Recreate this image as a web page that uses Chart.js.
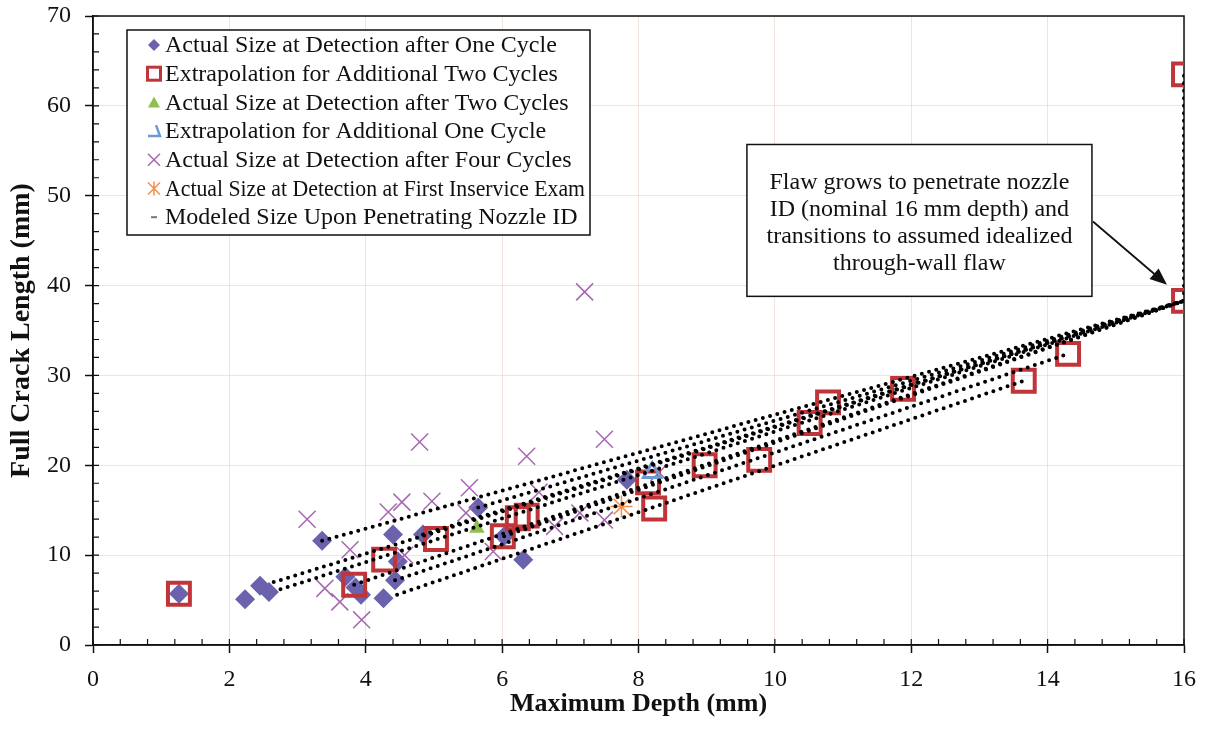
<!DOCTYPE html>
<html>
<head>
<meta charset="utf-8">
<title>Crack growth</title>
<script src="https://cdn.jsdelivr.net/npm/chart.js@4.4.1/dist/chart.umd.min.js"></script>
<style>
html, body { margin: 0; padding: 0; background: #fff; }
#wrap { width: 1206px; height: 733px; }
</style>
</head>
<body>
<div id="wrap"><canvas id="myChart" width="1206" height="733"></canvas></div>
<script>
// data: depth (mm) / length (mm)
var oneCycleX = [1.26, 2.23, 2.45, 2.58, 3.36, 3.70, 3.85, 3.93, 4.26, 4.40, 4.43, 4.47, 4.84, 5.65, 6.03, 6.31, 7.83];
var oneCycleY = [5.7, 5.1, 6.6, 5.9, 11.6, 7.6, 6.4, 5.6, 5.2, 12.3, 7.2, 9.3, 12.3, 15.3, 12.1, 9.5, 18.4];

var twoExtrapX = [1.26, 3.83, 4.27, 5.03, 6.01, 6.23, 6.36, 8.14, 8.23, 8.97, 9.77, 10.51, 10.78, 11.88, 13.65, 14.30, 16, 16];
var twoExtrapY = [5.7, 6.7, 9.5, 11.8, 12.1, 14.1, 14.4, 18.1, 15.2, 20.0, 20.6, 24.7, 27.0, 28.5, 29.4, 32.4, 38.3, 63.5];

var twoCycleX = [5.63];
var twoCycleY = [13.0];

var oneExtrapX = [8.2];
var oneExtrapY = [19.2];

var fourCycleX = [3.14, 3.40, 3.62, 3.77, 3.94, 4.33, 4.53, 4.57, 4.79, 4.97, 5.47, 5.52, 5.87, 6.36, 6.54, 6.77, 7.14, 7.21, 7.50, 7.50, 8.30];
var fourCycleY = [14.0, 6.3, 4.8, 10.6, 2.8, 14.8, 15.9, 10.0, 22.6, 16.0, 14.7, 17.5, 10.4, 21.0, 17.0, 13.2, 14.7, 39.3, 22.9, 13.9, 19.2];

var inserviceX = [7.75];
var inserviceY = [15.4];

var modeledX = [16];
var modeledY = [38.3];

// dotted growth paths, [depth, length] end points
var pathA = [[2.65, 7.0], [16, 38.3]];
var pathB = [[2.75, 6.2], [16, 38.3]];
var pathC = [[3.36, 11.6], [16, 38.3]];
var pathD = [[3.83, 6.7], [16, 38.3]];
var pathE = [[4.46, 5.6], [13.65, 29.4]];
var pathF = [[4.43, 7.2], [14.3, 32.4]];
var pathG = [[4.84, 12.3], [16, 38.3]];
var pathH = [[5.65, 15.3], [16, 38.3]];
var pathI = [[6.03, 12.1], [16, 38.3]];
var pathWall = [[16, 38.3], [16, 63.5]];

var xTicks = [0, 2, 4, 6, 8, 10, 12, 14, 16];
var yTicks = [0, 10, 20, 30, 40, 50, 60, 70];

var serif = '"Liberation Serif", "Times New Roman", serif';

function pts(xs, ys) {
    return xs.map(function (v, i) { return { x: v, y: ys[i] }; });
}

function pathSet(p) {
    return {
        label: '',
        data: p.map(function (q) { return { x: q[0], y: q[1] }; }),
        showLine: true,
        pointRadius: 0,
        borderColor: '#000',
        borderWidth: 4,
        borderDash: [0, 7.5],
        borderCapStyle: 'round',
        fill: false
    };
}

var legendRows = [
    { text: 'Actual Size at Detection after One Cycle', mark: 'diamond', color: '#6a62ad' },
    { text: 'Extrapolation for Additional Two Cycles', mark: 'square', color: '#c0353a' },
    { text: 'Actual Size at Detection after Two Cycles', mark: 'triangle', color: '#8fbf4f' },
    { text: 'Extrapolation for Additional One Cycle', mark: 'opentri', color: '#6d9bd1' },
    { text: 'Actual Size at Detection after Four Cycles', mark: 'x', color: '#a668b0' },
    { text: 'Actual Size at Detection at First Inservice Exam', mark: 'star', color: '#f4904a' },
    { text: 'Modeled Size Upon Penetrating Nozzle ID', mark: 'dash', color: '#777' }
];

var noteLines = [
    'Flaw grows to penetrate nozzle',
    'ID (nominal 16 mm depth) and',
    'transitions to assumed idealized',
    'through-wall flaw'
];

function drawMark(c, m, x, y) {
    c.save();
    c.fillStyle = m.color;
    c.strokeStyle = m.color;
    c.beginPath();
    if (m.mark == 'diamond') {
        c.moveTo(x, y - 6); c.lineTo(x + 6, y); c.lineTo(x, y + 6); c.lineTo(x - 6, y); c.closePath(); c.fill();
    } else if (m.mark == 'square') {
        c.lineWidth = 3; c.strokeRect(x - 6.5, y - 6.5, 13, 13);
    } else if (m.mark == 'triangle') {
        c.moveTo(x, y - 6); c.lineTo(x + 6, y + 5); c.lineTo(x - 6, y + 5); c.closePath(); c.fill();
    } else if (m.mark == 'opentri') {
        c.lineWidth = 2.5; c.moveTo(x + 2, y - 6); c.lineTo(x + 6, y + 5); c.lineTo(x - 6, y + 5); c.stroke();
    } else if (m.mark == 'x') {
        c.lineWidth = 1.5; c.moveTo(x - 6, y - 6); c.lineTo(x + 6, y + 6); c.moveTo(x + 6, y - 6); c.lineTo(x - 6, y + 6); c.stroke();
    } else if (m.mark == 'star') {
        c.lineWidth = 1.5;
        c.moveTo(x - 6, y - 6); c.lineTo(x + 6, y + 6); c.moveTo(x + 6, y - 6); c.lineTo(x - 6, y + 6);
        c.moveTo(x, y - 7); c.lineTo(x, y + 7); c.stroke();
    } else {
        c.lineWidth = 2; c.moveTo(x - 3, y); c.lineTo(x + 3, y); c.stroke();
    }
    c.restore();
}

var frameAndNotes = {
    id: 'frameAndNotes',
    beforeDatasetsDraw: function (chart) {
        var c = chart.ctx, a = chart.chartArea, xs = chart.scales.x, ys = chart.scales.y;
        c.save();
        c.strokeStyle = '#111';
        c.lineWidth = 1.2;
        c.beginPath();
        for (var v = 0; v <= 16.001; v += 0.4) {
            var px = xs.getPixelForValue(v);
            c.moveTo(px, a.bottom); c.lineTo(px, a.bottom - 6);
        }
        for (var w = 0; w <= 70; w += 2) {
            var py = ys.getPixelForValue(w);
            c.moveTo(a.left, py); c.lineTo(a.left + 6, py);
        }
        c.stroke();
        c.lineWidth = 1.5;
        c.strokeRect(a.left, a.top, a.right - a.left, a.bottom - a.top);
        c.restore();
    },
    afterDraw: function (chart) {
        var c = chart.ctx, a = chart.chartArea, xs = chart.scales.x, ys = chart.scales.y;
        c.save();
        // legend box
        var lx = a.left + 34, ly = a.top + 14;
        c.fillStyle = '#fff';
        c.fillRect(lx, ly, 463, 205);
        c.strokeStyle = '#111';
        c.lineWidth = 1.5;
        c.strokeRect(lx, ly, 463, 205);
        c.font = '24px ' + serif;
        c.textBaseline = 'middle';
        c.textAlign = 'left';
        legendRows.forEach(function (r, i) {
            var y = ly + 15 + i * 28.7;
            drawMark(c, r, lx + 27, y);
            c.fillStyle = '#111';
            c.fillText(r.text, lx + 38, y + 1, 420);
        });

        // note box with arrow
        var bx0 = xs.getPixelForValue(9.59), bx1 = xs.getPixelForValue(14.65);
        var by0 = ys.getPixelForValue(55.7), by1 = ys.getPixelForValue(38.8);
        c.fillStyle = '#fff';
        c.fillRect(bx0, by0, bx1 - bx0, by1 - by0);
        c.strokeRect(bx0, by0, bx1 - bx0, by1 - by0);
        c.fillStyle = '#111';
        c.textAlign = 'center';
        noteLines.forEach(function (t, i) {
            c.fillText(t, (bx0 + bx1) / 2, by0 + 38 + i * 27);
        });
        var tx = xs.getPixelForValue(16) - 17, ty = ys.getPixelForValue(38.3) - 16;
        var sx = bx1 + 1, sy = by0 + 77;
        var ang = Math.atan2(ty - sy, tx - sx);
        c.strokeStyle = '#111';
        c.lineWidth = 1.8;
        c.beginPath();
        c.moveTo(sx, sy);
        c.lineTo(tx - 12 * Math.cos(ang), ty - 12 * Math.sin(ang));
        c.stroke();
        c.beginPath();
        c.moveTo(tx, ty);
        c.lineTo(tx - 17 * Math.cos(ang) + 7 * Math.sin(ang), ty - 17 * Math.sin(ang) - 7 * Math.cos(ang));
        c.lineTo(tx - 17 * Math.cos(ang) - 7 * Math.sin(ang), ty - 17 * Math.sin(ang) + 7 * Math.cos(ang));
        c.closePath();
        c.fill();
        c.restore();
    }
};

var gridColor = 'rgba(228, 205, 195, 0.55)';

// keep the plot box where the picture has it
function noPad(s) {
    s.paddingTop = 0; s.paddingBottom = 0; s.paddingLeft = 0; s.paddingRight = 0;
}

var ctx = document.getElementById('myChart').getContext('2d');
var myChart = new Chart(ctx, {
    type: 'scatter',
    data: {
        datasets: [
            pathSet(pathA), pathSet(pathB), pathSet(pathC), pathSet(pathD), pathSet(pathE),
            pathSet(pathF), pathSet(pathG), pathSet(pathH), pathSet(pathI), pathSet(pathWall),
            {
                label: 'Modeled Size Upon Penetrating Nozzle ID',
                data: pts(modeledX, modeledY),
                pointStyle: 'dash', pointRadius: 6, borderColor: '#888', borderWidth: 4
            },
            {
                label: 'Extrapolation for Additional One Cycle',
                data: pts(oneExtrapX, oneExtrapY),
                pointStyle: 'triangle', pointRadius: 10, backgroundColor: 'rgba(0,0,0,0)',
                borderColor: '#6d9bd1', borderWidth: 3
            },
            {
                label: 'Actual Size at Detection at First Inservice Exam',
                data: pts(inserviceX, inserviceY),
                pointStyle: 'star', pointRadius: 11, borderColor: '#f4904a', borderWidth: 1.5
            },
            {
                label: 'Actual Size at Detection after Two Cycles',
                data: pts(twoCycleX, twoCycleY),
                pointStyle: 'triangle', pointRadius: 9, backgroundColor: '#8fbf4f',
                borderColor: '#8fbf4f', borderWidth: 0
            },
            {
                label: 'Extrapolation for Additional Two Cycles',
                data: pts(twoExtrapX, twoExtrapY),
                pointStyle: 'rect', pointRadius: 15.5, backgroundColor: 'rgba(0,0,0,0)',
                borderColor: '#c0353a', borderWidth: 4
            },
            {
                label: 'Actual Size at Detection after Four Cycles',
                data: pts(fourCycleX, fourCycleY),
                pointStyle: 'crossRot', pointRadius: 12, borderColor: '#a668b0', borderWidth: 1.5
            },
            {
                label: 'Actual Size at Detection after One Cycle',
                data: pts(oneCycleX, oneCycleY),
                pointStyle: 'rectRot', pointRadius: 10, backgroundColor: '#6a62ad',
                borderColor: '#6a62ad', borderWidth: 0
            }
        ]
    },
    options: {
        responsive: false,
        animation: false,
        layout: { autoPadding: false, padding: { top: 16, right: 22, left: 0, bottom: 0 } },
        plugins: { legend: { display: false }, tooltip: { enabled: false } },
        scales: {
            x: {
                type: 'linear', min: 0, max: 16,
                afterBuildTicks: function (s) { s.ticks = xTicks.map(function (v) { return { value: v }; }); },
                afterFit: function (s) { s.height = 88; noPad(s); },
                ticks: { color: '#111', padding: 12, font: { family: serif, size: 24 } },
                grid: { color: gridColor, tickColor: '#111', tickLength: 8, tickWidth: 1.5 },
                border: { color: '#111', width: 1.5 },
                title: {
                    display: true, text: 'Maximum Depth (mm)', color: '#111',
                    font: { family: serif, size: 26, weight: 'bold' },
                    padding: { top: 0, bottom: 13 }
                }
            },
            y: {
                type: 'linear', min: 0, max: 70,
                afterBuildTicks: function (s) { s.ticks = yTicks.map(function (v) { return { value: v }; }); },
                afterFit: function (s) { s.width = 93; noPad(s); },
                ticks: { color: '#111', padding: 14, font: { family: serif, size: 24 } },
                grid: { color: gridColor, tickColor: '#111', tickLength: 8, tickWidth: 1.5 },
                border: { color: '#111', width: 1.5 },
                title: {
                    display: true, text: 'Full Crack Length (mm)', color: '#111',
                    font: { family: serif, size: 28, weight: 'bold' },
                    padding: { top: 5, bottom: 0 }
                }
            }
        }
    },
    plugins: [frameAndNotes]
});
</script>
</body>
</html>
